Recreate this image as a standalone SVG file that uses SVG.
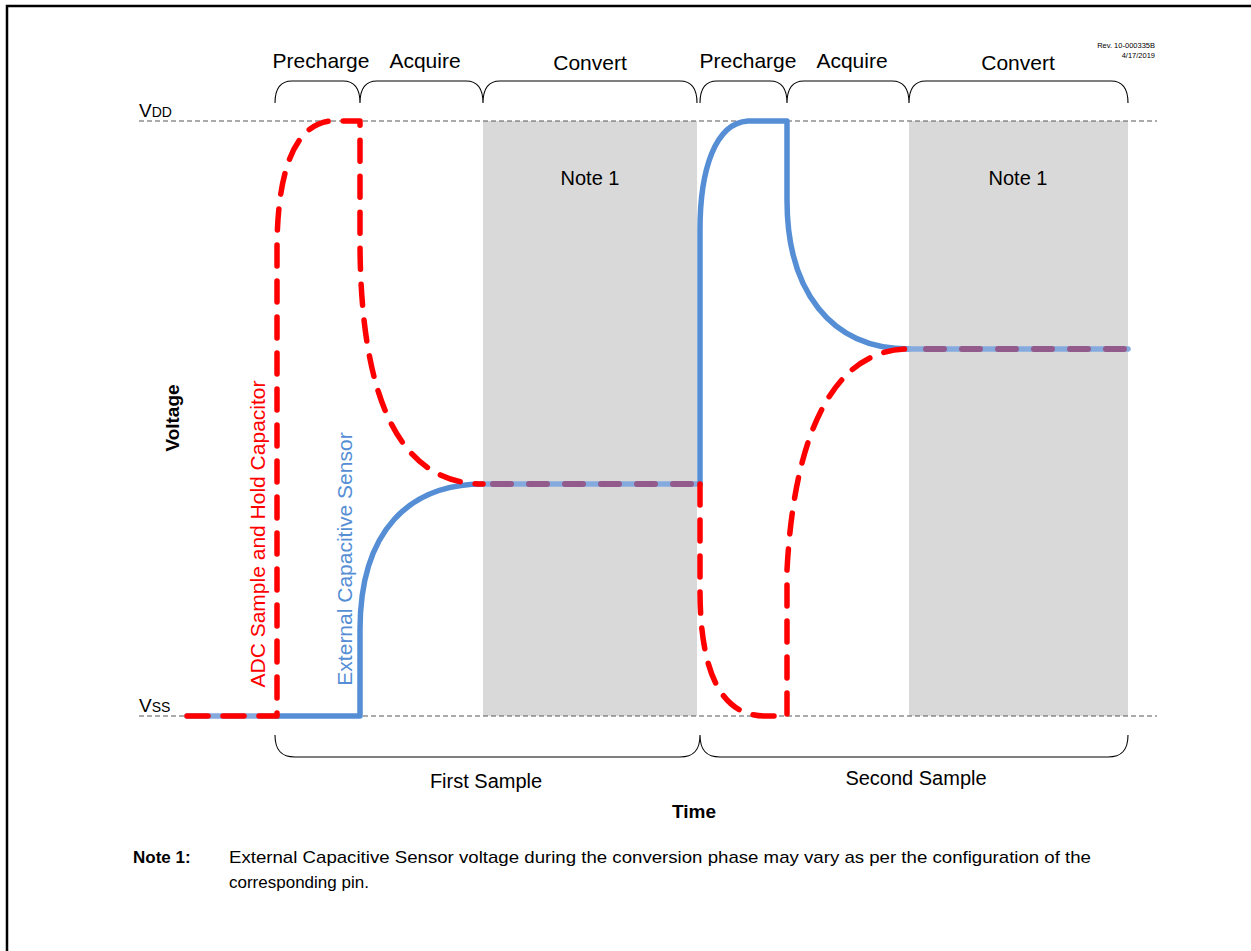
<svg xmlns="http://www.w3.org/2000/svg" width="1251" height="951" viewBox="0 0 1251 951">
<style>
text{font-family:"Liberation Sans",Arial,sans-serif;fill:#000}
.ref{stroke:#595959;stroke-width:1.2;stroke-dasharray:5 3;fill:none}
.brace{stroke:#000;stroke-width:1.1;fill:none}
.blue{stroke:#558ed5;stroke-width:5.5;fill:none;stroke-linejoin:round;stroke-linecap:round}
.lblue{stroke:#85aade;stroke-width:5.5;fill:none;stroke-linecap:round}
.red{stroke:#ff0000;stroke-width:5.5;fill:none;stroke-dasharray:21 15;stroke-linecap:round;stroke-linejoin:round}
.purple{stroke:#935b8c;stroke-width:6;fill:none;stroke-dasharray:18 18;stroke-linecap:round}
.phase{font-size:21px;text-anchor:middle}
.gray{fill:#d9d9d9}
</style>
<rect x="0" y="0" width="1251" height="951" fill="#fff"/>
<rect x="7" y="6" width="1270" height="980" fill="none" stroke="#000" stroke-width="2.5"/>

<g id="convert-regions">
<rect class="gray" x="483" y="121" width="214" height="595"/>
<rect class="gray" x="909" y="121" width="219" height="595"/>
<text x="590" y="185" font-size="20" text-anchor="middle">Note 1</text>
<text x="1018" y="185" font-size="20" text-anchor="middle">Note 1</text>
</g>

<g id="rails">
<line class="ref" x1="139" y1="121" x2="1157" y2="121"/>
<line class="ref" x1="139" y1="716" x2="1157" y2="716"/>
<text x="139" y="117" font-size="19">V<tspan font-size="14">DD</tspan></text>
<text x="139" y="712" font-size="19">V<tspan font-size="14">SS</tspan></text>
</g>

<g id="phase-braces">
<path class="brace" d="M275,103 C275,89 280,81 292,81 H343 C355,81 360,89 360,103 C360,89 365,81 377,81 H466 C478,81 483,89 483,103 C483,89 488,81 500,81 H680 C692,81 697,89 697,103"/>
<path class="brace" d="M700,103 C700,89 705,81 717,81 H770 C782,81 787,89 787,103 C787,89 792,81 804,81 H892 C904,81 909,89 909,103 C909,89 914,81 926,81 H1111 C1123,81 1128,89 1128,103"/>
<text class="phase" x="321" y="68">Precharge</text>
<text class="phase" x="425" y="68">Acquire</text>
<text class="phase" x="590" y="70">Convert</text>
<text class="phase" x="748" y="68">Precharge</text>
<text class="phase" x="852" y="68">Acquire</text>
<text class="phase" x="1018" y="70">Convert</text>
</g>

<g id="sample-braces">
<path class="brace" d="M275,735 C275,750 281,757 295,757 H680 C694,757 700,750 700,735 C700,750 706,757 720,757 H1108 C1122,757 1128,750 1128,735"/>
<text x="486" y="788" font-size="20" text-anchor="middle">First Sample</text>
<text x="916" y="785" font-size="20" text-anchor="middle">Second Sample</text>
</g>

<g id="connectors">
<path class="lblue" d="M187,716 H277"/>
<path class="blue" d="M277,716 H360 V630 C360,530 410,484 483,484"/>
<path class="lblue" d="M483,484 H700"/>
<path class="blue" d="M700,484 V230 C700,170 715,123 748,121 H787 V200 C787,290 830,349 909,349"/>
<path class="lblue" d="M909,349 H1128"/>
<path class="red" d="M187,716 H277 V250 C277,170 295,125 330,121 H360 V240 C360,400 400,484 483,484"/>
<path class="red" d="M700,484 V590 C700,670 720,716 765,716 H787 V570 C795,420 840,349 909,349"/>
<path class="purple" d="M493,484 H697"/>
<path class="purple" d="M926,349 H1125"/>
</g>

<g id="curve-labels">
<text transform="translate(265,534) rotate(-90)" font-size="21" text-anchor="middle" style="fill:#ff0000">ADC Sample and Hold Capacitor</text>
<text transform="translate(352,559) rotate(-90)" font-size="21" text-anchor="middle" style="fill:#558ed5">External Capacitive Sensor</text>
</g>

<g id="axes">
<text transform="translate(179,418) rotate(-90)" font-size="19" font-weight="bold" text-anchor="middle">Voltage</text>
<text x="694" y="818" font-size="19" font-weight="bold" text-anchor="middle">Time</text>
</g>

<g id="revision">
<text x="1155" y="48" font-size="7.5" text-anchor="end">Rev. 10-000335B</text>
<text x="1155" y="58" font-size="7.5" text-anchor="end">4/17/2019</text>
</g>

<g id="note">
<text x="133" y="863" font-size="17" font-weight="bold">Note 1:</text>
<text x="229" y="863" font-size="17" textLength="862" lengthAdjust="spacingAndGlyphs">External Capacitive Sensor voltage during the conversion phase may vary as per the configuration of the</text>
<text x="229" y="888" font-size="17">corresponding pin.</text>
</g>
</svg>
